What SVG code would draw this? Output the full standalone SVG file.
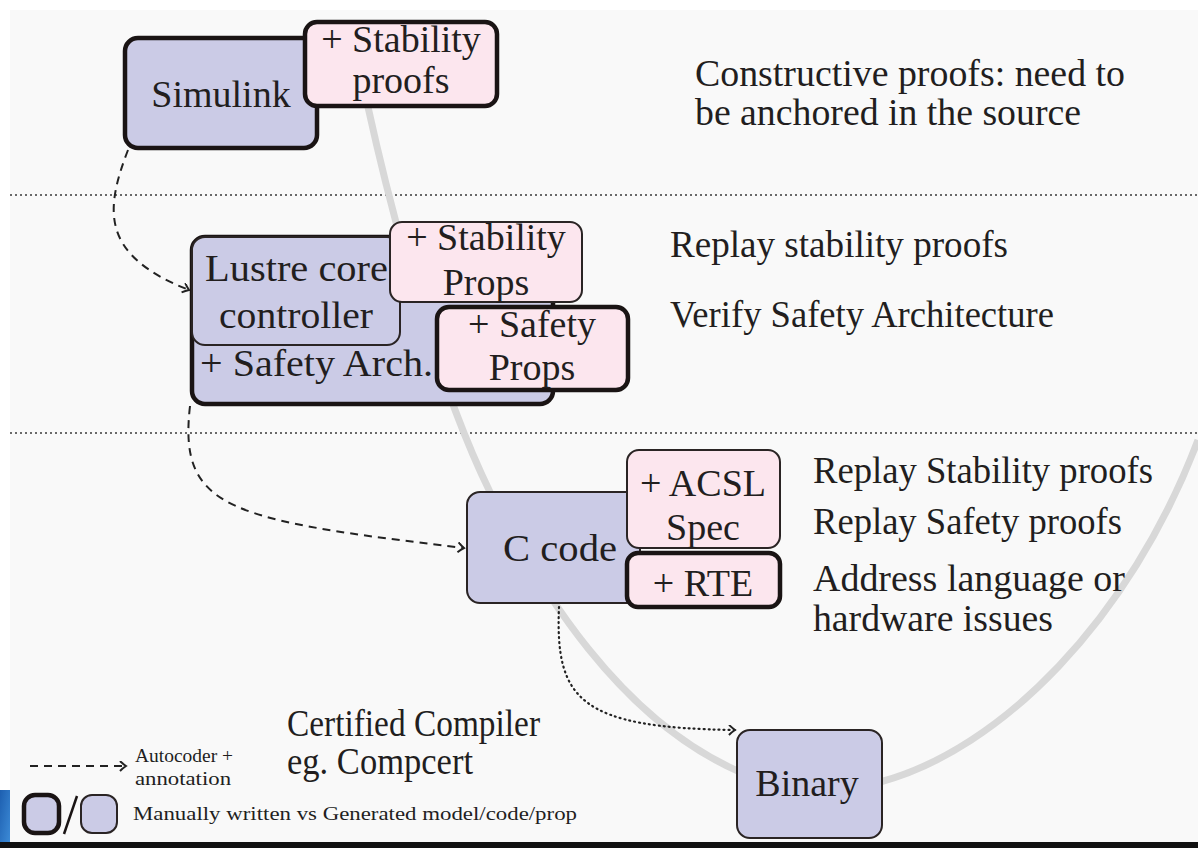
<svg xmlns="http://www.w3.org/2000/svg" width="1198" height="848" viewBox="0 0 1198 848">
<defs>
<style>
.t{font-family:"Liberation Serif","Times New Roman",serif;fill:#221e1e;}
.big{font-size:38px;}
.box{font-size:38px;}
.small{font-size:19px;}
.gen{fill:#cbcbe6;stroke:#2a2424;stroke-width:2;}
.man{fill:#cbcbe6;stroke:#1a1414;stroke-width:4.5;}
.pgen{fill:#fce6ee;stroke:#2a2424;stroke-width:2;}
.pman{fill:#fce6ee;stroke:#1a1414;stroke-width:4.5;}
.sep{stroke:#3a3a3a;stroke-width:1.6;stroke-dasharray:2 3;fill:none;}
.dash{stroke:#222;stroke-width:2;stroke-dasharray:8 6;fill:none;}
.dot{stroke:#222;stroke-width:2.2;stroke-dasharray:1 4;stroke-linecap:round;fill:none;}
</style>
<marker id="arr" markerWidth="12" markerHeight="12" refX="8" refY="5" orient="auto" markerUnits="userSpaceOnUse">
<path d="M2,0 Q5,3 8,5 Q5,7 2,10" fill="none" stroke="#222" stroke-width="2"/>
</marker>
<linearGradient id="blue" x1="0" y1="0" x2="1" y2="1">
<stop offset="0" stop-color="#1d5fb0"/><stop offset="1" stop-color="#3c8ad6"/>
</linearGradient>
</defs>
<rect x="0" y="0" width="1198" height="848" fill="#ffffff"/>
<rect x="10" y="10" width="1188" height="832" fill="#f9f9f9"/>
<rect x="0" y="790" width="10" height="52" fill="url(#blue)"/>
<rect x="0" y="842" width="1198" height="6" fill="#111"/>

<g id="separators">
<line class="sep" x1="10" y1="195" x2="1198" y2="195"/>
<line class="sep" x1="10" y1="433" x2="1198" y2="433"/>
</g>

<g id="v-curve" fill="none" stroke="#d8d8d8" stroke-width="7">
<path d="M368,107 C395,230 440,390 490,492 C540,590 620,720 740,772"/>
<path d="M880,782 C1000,750 1130,620 1198,440"/>
</g>

<g id="connectors">
<path class="dash" d="M128,150 C105,210 100,255 189,290" marker-end="url(#arr)"/>
<path class="dash" d="M190,406 C178,510 230,520 464,548" marker-end="url(#arr)"/>
<path class="dot" d="M559,607 C555,700 580,728 735,730" marker-end="url(#arr)"/>
</g>

<g id="simulink">
<rect class="man" x="125" y="38" width="192" height="110" rx="13"/>
<text class="t box" x="221" y="107" text-anchor="middle">Simulink</text>
</g>
<g id="stability-proofs">
<rect class="pman" x="305" y="22" width="192" height="84" rx="12"/>
<text class="t box" x="401" y="52" text-anchor="middle">+ Stability</text>
<text class="t box" x="401" y="93" text-anchor="middle">proofs</text>
</g>

<g id="lustre">
<rect class="man" x="192" y="237" width="361" height="167" rx="13"/>
<rect class="gen" x="192" y="237" width="208" height="108" rx="13"/>
<text class="t box" x="205" y="281" textLength="183" lengthAdjust="spacingAndGlyphs">Lustre core</text>
<text class="t box" x="219" y="328" textLength="154" lengthAdjust="spacingAndGlyphs">controller</text>
<text class="t box" x="200" y="376" textLength="233" lengthAdjust="spacingAndGlyphs">+ Safety Arch.</text>
</g>
<g id="stability-props">
<rect class="pgen" x="390" y="222" width="192" height="80" rx="12"/>
<text class="t box" x="486" y="250" text-anchor="middle">+ Stability</text>
<text class="t box" x="486" y="295" text-anchor="middle">Props</text>
</g>
<g id="safety-props">
<rect class="pman" x="437" y="307" width="191" height="83" rx="12"/>
<text class="t box" x="532" y="337" text-anchor="middle">+ Safety</text>
<text class="t box" x="532" y="380" text-anchor="middle">Props</text>
</g>

<g id="c-code">
<rect class="gen" x="467" y="492" width="173" height="111" rx="13"/>
<text class="t box" x="503" y="561" textLength="114" lengthAdjust="spacingAndGlyphs">C code</text>
</g>
<g id="acsl-spec">
<rect class="pgen" x="627" y="450" width="153" height="98" rx="12"/>
<text class="t box" x="703" y="496" text-anchor="middle">+ ACSL</text>
<text class="t box" x="703" y="540" text-anchor="middle">Spec</text>
</g>
<g id="rte">
<rect class="pman" x="627" y="553" width="153" height="54" rx="11"/>
<text class="t box" x="703" y="596" text-anchor="middle">+ RTE</text>
</g>

<g id="binary">
<rect class="gen" x="737" y="730" width="145" height="108" rx="13"/>
<text class="t box" x="807" y="796" text-anchor="middle">Binary</text>
</g>

<g id="annotations">
<text class="t big" x="695" y="86" textLength="430" lengthAdjust="spacingAndGlyphs">Constructive proofs:  need to</text>
<text class="t big" x="695" y="125" textLength="386" lengthAdjust="spacingAndGlyphs">be anchored in the source</text>
<text class="t big" x="670" y="257" textLength="338" lengthAdjust="spacingAndGlyphs">Replay stability proofs</text>
<text class="t big" x="670" y="327" textLength="384" lengthAdjust="spacingAndGlyphs">Verify Safety Architecture</text>
<text class="t big" x="813" y="483" textLength="340" lengthAdjust="spacingAndGlyphs">Replay Stability proofs</text>
<text class="t big" x="813" y="534" textLength="309" lengthAdjust="spacingAndGlyphs">Replay Safety proofs</text>
<text class="t big" x="813" y="591" textLength="312" lengthAdjust="spacingAndGlyphs">Address language or</text>
<text class="t big" x="813" y="631" textLength="240" lengthAdjust="spacingAndGlyphs">hardware issues</text>
<text class="t big" x="287" y="736" textLength="253" lengthAdjust="spacingAndGlyphs">Certified Compiler</text>
<text class="t big" x="287" y="774" textLength="186" lengthAdjust="spacingAndGlyphs">eg.  Compcert</text>
</g>

<g id="legend">
<line class="dash" x1="30" y1="766" x2="126" y2="766" marker-end="url(#arr)"/>
<text class="t small" x="135" y="762" textLength="98" lengthAdjust="spacingAndGlyphs">Autocoder +</text>
<text class="t small" x="135" y="785" textLength="96" lengthAdjust="spacingAndGlyphs">annotation</text>
<rect class="man" x="24" y="795" width="35" height="38" rx="11"/>
<line x1="64" y1="834" x2="77" y2="796" stroke="#1a1414" stroke-width="2.5"/>
<rect class="gen" x="81" y="795" width="36" height="38" rx="11"/>
<text class="t small" x="133" y="820" textLength="444" lengthAdjust="spacingAndGlyphs">Manually written vs Generated model/code/prop</text>
</g>
</svg>
